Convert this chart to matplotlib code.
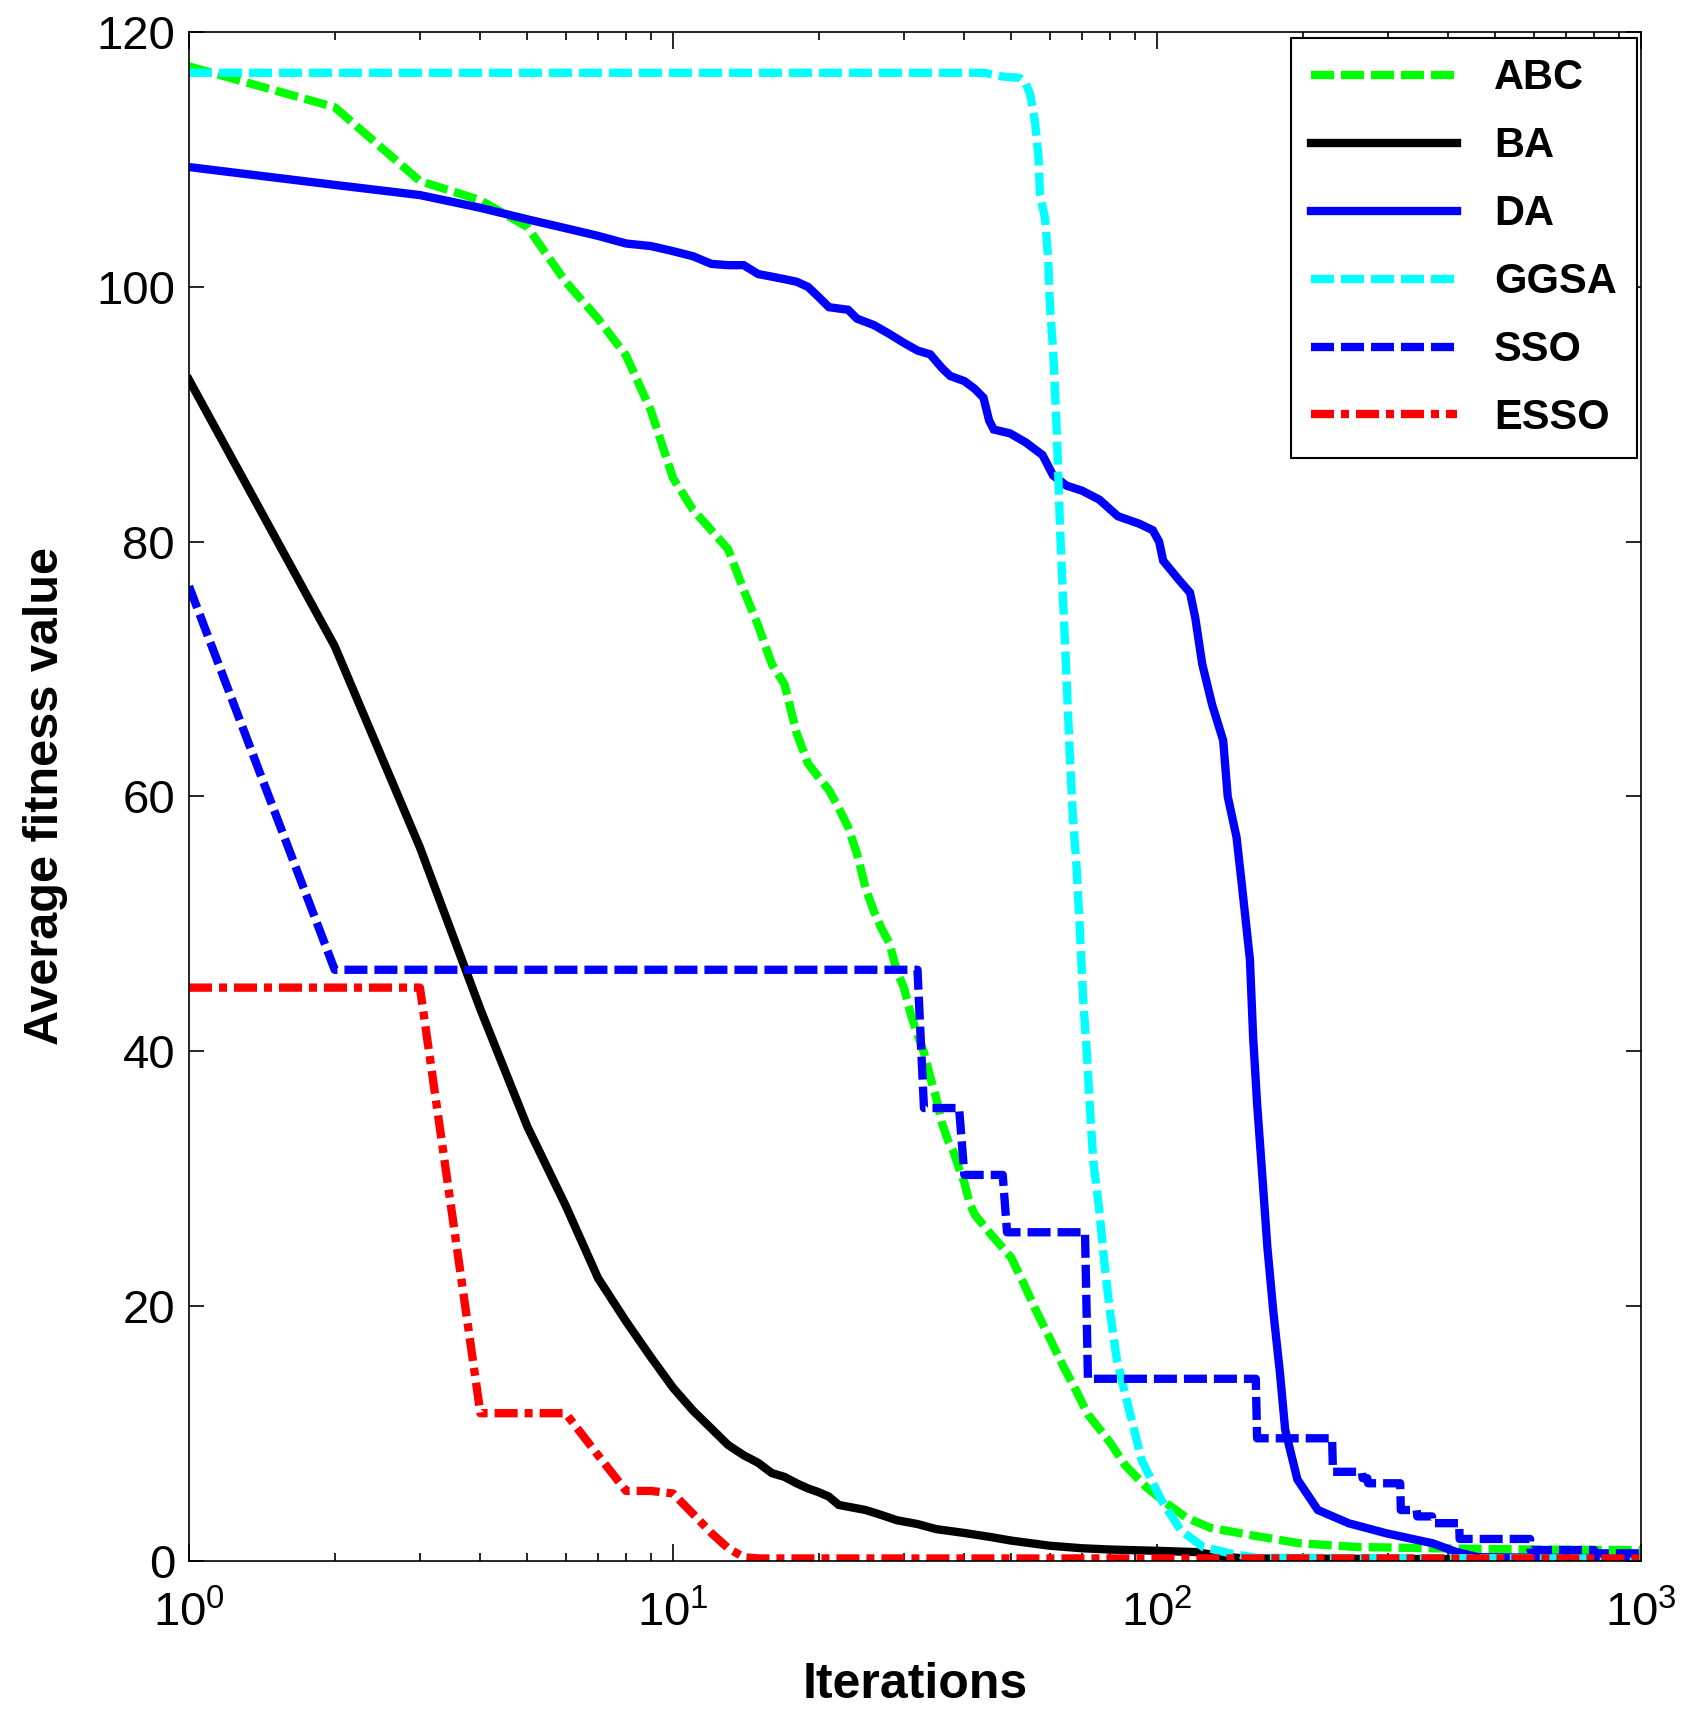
# Courbes de convergence : fitness moyenne vs iterations (axe x log)

import numpy as np
import matplotlib
matplotlib.use('Agg')
import matplotlib.pyplot as plt
from matplotlib.ticker import LogLocator, FixedLocator, NullFormatter

plt.rcParams['font.family'] = ['Liberation Sans', 'DejaVu Sans']
plt.rcParams['mathtext.fontset'] = 'custom'
plt.rcParams['mathtext.rm'] = 'Liberation Sans'

# --- donnees ---
abc_iter = [1, 2, 3, 4, 5, 6, 7, 8, 9, 10, 11, 12, 13, 14, 15, 16, 17, 18, 19, 20,
            21, 22, 23, 24, 25, 26, 27, 28, 29, 30, 31, 32, 33, 34, 35, 36, 37, 38,
            39, 40, 41, 42, 45, 50, 53, 56, 60, 64, 68, 72, 80, 86, 95, 104, 115,
            129, 158, 196, 258, 371, 600, 1000]
abc_val = [117.3, 114.1, 108.3, 106.8, 104.7, 100.4, 97.5, 94.6, 90.3, 85.0, 82.5,
           80.9, 79.4, 76.2, 73.4, 70.4, 68.8, 65.0, 62.6, 61.5, 60.5, 59.1, 57.6,
           55.5, 52.8, 51.0, 49.6, 48.5, 46.3, 45.0, 42.9, 41.3, 39.9, 38.0, 36.3,
           34.3, 33.0, 32.1, 30.8, 29.7, 28.1, 27.2, 25.8, 23.8, 21.8, 19.8, 17.5,
           15.3, 13.4, 11.5, 9.3, 7.5, 5.8, 4.6, 3.4, 2.6, 2.0, 1.4, 1.1, 1.0, 0.9, 0.85]

ba_iter = [1, 2, 3, 4, 5, 6, 7, 8, 9, 10, 11, 12, 13, 14, 15, 16, 17, 18, 19, 20,
           21, 22, 25, 27, 29, 32, 35, 40, 45, 50, 60, 70, 80, 100, 120, 135, 150, 1000]
ba_val = [92.7, 71.8, 56.0, 43.3, 34.1, 27.9, 22.2, 18.8, 16.0, 13.6, 11.8, 10.4,
          9.1, 8.3, 7.7, 6.9, 6.6, 6.1, 5.7, 5.4, 5.05, 4.4, 4.0, 3.6, 3.2, 2.9,
          2.5, 2.2, 1.9, 1.6, 1.2, 1.0, 0.9, 0.8, 0.7, 0.4, 0.2, 0.1]

da_iter = [1, 2, 3, 4, 5, 6, 7, 8, 9, 10, 11, 12, 13, 14, 15, 16, 17, 18, 19, 20,
           21, 23, 24, 26, 28, 30, 32, 34, 36, 37.4, 40, 42, 43.8, 45, 46, 49.7,
           53.5, 58, 61, 65, 70, 76, 83, 92, 98, 101, 103, 111, 117, 120, 124, 130,
           137, 140, 146, 150, 155.6, 158, 161, 165, 169, 174, 179.5, 184, 195,
           215, 249, 298, 371, 414, 460, 1000]
da_val = [109.4, 108.0, 107.2, 106.2, 105.3, 104.6, 104.0, 103.4, 103.2, 102.8,
          102.4, 101.8, 101.7, 101.7, 101.0, 100.8, 100.6, 100.4, 100.0, 99.2,
          98.4, 98.2, 97.5, 97.0, 96.3, 95.6, 95.0, 94.7, 93.6, 93.0, 92.6, 92.0,
          91.3, 89.5, 88.8, 88.5, 87.8, 86.8, 85.2, 84.4, 84.0, 83.3, 82.0, 81.4,
          80.9, 80.0, 78.5, 77.0, 76.0, 74.0, 70.4, 67.2, 64.4, 60.0, 56.8, 52.8,
          47.2, 41.1, 35.9, 30.3, 24.7, 19.5, 14.75, 10.3, 6.4, 4.0, 2.96, 2.17,
          1.39, 0.73, 0.3, 0.2]

ggsa_iter = [1, 44, 48, 52, 53.5, 54.7, 56, 56.9, 57.3, 58.7, 59.6, 60.1, 61.1,
             62.1, 63.1, 64, 65, 66, 67, 68.2, 69.3, 70.4, 71.6, 72.7, 73.8, 76,
             78, 80, 82.6, 86.6, 93, 102, 112, 124.5, 141.5, 160, 1000]
ggsa_val = [116.8, 116.8, 116.5, 116.4, 116.0, 115.1, 112.9, 110.2, 107.2, 105.4,
            102.1, 98.5, 94.6, 88.5, 80.7, 75.2, 69.5, 63.5, 58.5, 54.5, 49.5,
            44.0, 40.0, 35.5, 31.5, 27.5, 23.1, 19.5, 15.8, 12.6, 7.9, 4.8, 2.4,
            1.1, 0.6, 0.25, 0.2]

sso_iter = [1, 2, 32, 33, 39, 40, 48, 49, 71, 72, 160, 161, 230, 231, 265, 266,
            272, 273, 318, 319, 344, 345, 370, 371, 421, 422, 590, 591, 800, 801, 1000]
sso_val = [76.5, 46.4, 46.4, 35.55, 35.55, 30.3, 30.3, 25.8, 25.8, 14.3, 14.3,
           9.63, 9.63, 7.0, 7.0, 6.5, 6.5, 6.1, 6.1, 4.0, 4.0, 3.5, 3.5, 2.97,
           2.97, 1.73, 1.73, 0.86, 0.86, 0.6, 0.6]

esso_iter = [1, 2, 3, 4, 5, 6, 7, 8, 9, 10, 11, 12, 13, 14, 15, 1000]
esso_val = [45, 45, 45, 11.6, 11.6, 11.6, 8.3, 5.5, 5.5, 5.3, 3.7, 2.2, 1.0, 0.3, 0.2, 0.2]

y_ticks = [0, 20, 40, 60, 80, 100, 120]

# --- figure ---
fig = plt.figure(figsize=(16.94, 17.21), dpi=100)
ax = fig.add_axes([0.11157, 0.09297, 0.85714, 0.88844])

lw = 6
dash = (2.76, 0.84)
dashdot = (2.76, 0.84, 0.96, 0.84)

series = [
    (abc_iter, abc_val, 'ABC', (0, 1, 0), dash),
    (ba_iter, ba_val, 'BA', 'black', None),
    (da_iter, da_val, 'DA', (0, 0, 1), None),
    (ggsa_iter, ggsa_val, 'GGSA', (0, 1, 1), dash),
    (sso_iter, sso_val, 'SSO', (0, 0, 1), dash),
    (esso_iter, esso_val, 'ESSO', (1, 0, 0), dashdot),
]

for xs, ys, name, col, ds in series:
    line, = ax.plot(xs, ys, color=col, linewidth=lw, label=name,
                    solid_joinstyle='miter')
    if ds is not None:
        line.set_dashes(ds)

ax.set_xscale('log')
ax.set_xlim(1, 1000)
ax.set_ylim(0, 120)
ax.yaxis.set_major_locator(FixedLocator(y_ticks))
ax.xaxis.set_major_locator(LogLocator(base=10, numticks=10))
ax.xaxis.set_minor_locator(LogLocator(base=10, subs=np.arange(2, 10), numticks=20))
ax.xaxis.set_minor_formatter(NullFormatter())

ax.tick_params(which='both', direction='in', top=True, right=True, width=1.2)
ax.tick_params(axis='y', which='major', length=11, labelsize=34, pad=10)
ax.tick_params(axis='x', which='major', length=12, labelsize=34, pad=22)
ax.tick_params(axis='x', which='minor', length=6)
for sp in ax.spines.values():
    sp.set_linewidth(1.2)

ax.set_xlabel('Iterations', fontsize=36, fontweight='bold', labelpad=18)
ax.set_ylabel('Average fitness value', fontsize=35, fontweight='bold', labelpad=20)

# legende decalee de quelques pixels vers le bas pour garder les lignes en place
leg = ax.legend(loc='upper right', bbox_to_anchor=(1.0, 0.9985),
                prop={'size': 30, 'weight': 'bold'},
                handlelength=3.5, handletextpad=0.9, labelspacing=0.67,
                borderpad=0.48, borderaxespad=0.1, fancybox=False, framealpha=1,
                edgecolor='black')
leg.get_frame().set_linewidth(1.5)

plt.savefig('out.png', dpi=100)
